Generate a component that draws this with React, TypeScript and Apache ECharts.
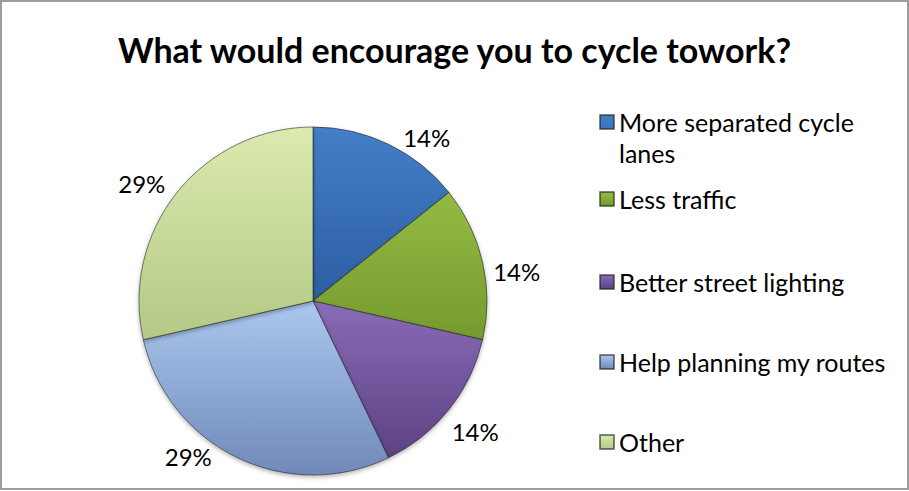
import React, { useEffect, useRef } from 'react';
import * as echarts from 'echarts';

const TITLE = 'What would encourage you to cycle towork?';
const CATEGORIES = [
  'More separated cycle lanes',
  'Less traffic',
  'Better street lighting',
  'Help planning my routes',
  'Other',
];
const VALUES = [1, 1, 1, 2, 2];

// styling (kept apart from data)
const GRADIENTS = [
  ['#447ec8', '#2c5ea2'],
  ['#94ba45', '#759a2d'],
  ['#8a6bb7', '#5c4283'],
  ['#abc8ef', '#7089b9'],
  ['#dbeaae', '#b3c985'],
];
const LABEL_NUDGE = [
  [6, 11],
  [-9, 14],
  [-13, 10],
  [-17, -19],
  [4, 3],
];
const LEGEND_TOPS = [106.5, 183.5, 266.5, 346.5, 426.5];
const FONT = 'Lato, "Open Sans", sans-serif';

export default function App() {
  const ref = useRef<HTMLDivElement>(null);

  useEffect(() => {
    if (!ref.current) return;
    const chart = echarts.init(ref.current, undefined, { renderer: 'svg' });

    const data = CATEGORIES.map((name, i) => ({
      name,
      value: VALUES[i],
      itemStyle: {
        color: new echarts.graphic.LinearGradient(0, 0, 0, 1, [
          { offset: 0, color: GRADIENTS[i][0] },
          { offset: 1, color: GRADIENTS[i][1] },
        ]),
      },
    }));

    const legends = CATEGORIES.map((name, i) => ({
      data: [name],
      orient: 'vertical',
      left: 599,
      top: LEGEND_TOPS[i],
      padding: 0,
      selectedMode: false,
      itemWidth: 14,
      itemHeight: i === 0 ? 45 : 14,
      icon: i === 0 ? 'path://M0,0H14V14H0Z M0,45' : 'rect',
      textStyle: {
        fontFamily: FONT,
        fontSize: 25,
        lineHeight: 31,
        color: '#000',
        width: 280,
        overflow: 'break',
      },
    }));

    chart.setOption({
      animation: false,
      backgroundColor: '#fff',
      title: {
        text: TITLE,
        left: 'center',
        top: 27,
        textStyle: {
          fontFamily: FONT,
          fontWeight: 'bold',
          fontSize: 34,
          color: '#000',
        },
      },
      legend: legends,
      graphic: [
        {
          type: 'rect',
          shape: { x: 1, y: 1, width: 907, height: 488 },
          style: { fill: 'none', stroke: '#9c9c9c', lineWidth: 2 },
          silent: true,
        },
      ],
      series: [
        {
          type: 'pie',
          center: [313, 301],
          radius: 174,
          startAngle: 90,
          clockwise: true,
          avoidLabelOverlap: false,
          data,
          itemStyle: {
            borderColor: 'rgba(30,30,30,0.55)',
            borderWidth: 1,
            shadowBlur: 4,
            shadowColor: 'rgba(0,0,0,0.3)',
            shadowOffsetY: 2,
          },
          label: {
            show: true,
            position: 'outside',
            distanceToLabelLine: 0,
            fontFamily: FONT,
            fontSize: 24,
            color: '#000',
            formatter: (p: any) => Math.round(p.percent) + '%',
          },
          labelLine: { show: false, length: 20, length2: 0 },
          labelLayout: (p: any) => ({
            dx: LABEL_NUDGE[p.dataIndex][0],
            dy: LABEL_NUDGE[p.dataIndex][1],
          }),
          emphasis: { disabled: true },
        },
      ],
    });

    return () => chart.dispose();
  }, []);

  return (
    <div
      ref={ref}
      style={{ position: 'fixed', left: 0, top: 0, width: 909, height: 491 }}
    />
  );
}
